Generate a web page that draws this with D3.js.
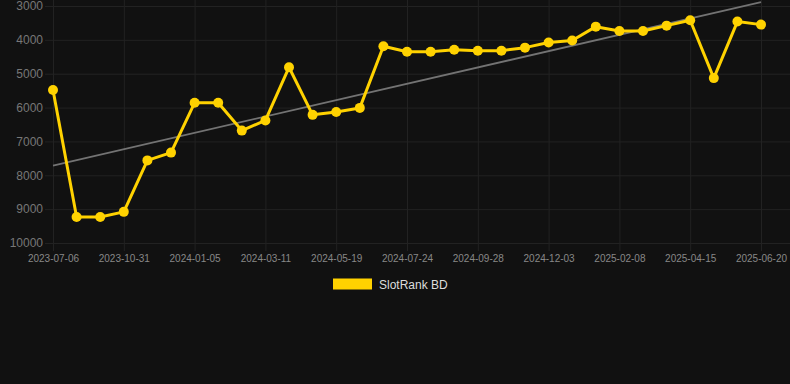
<!DOCTYPE html>
<html>
<head>
<meta charset="utf-8">
<script src="https://cdn.jsdelivr.net/npm/d3@7"></script>
<style>
  html, body { margin: 0; padding: 0; background: #111111; }
  svg { display: block; font-family: "Liberation Sans", Arial, sans-serif; }
</style>
</head>
<body>
<svg id="chart" width="790" height="384"></svg>
<script>
const dates = [
  "2023-07-06","2023-08-14","2023-09-22","2023-10-31","2023-11-22","2023-12-14",
  "2024-01-05","2024-01-27","2024-02-18","2024-03-11","2024-04-03","2024-04-26",
  "2024-05-19","2024-06-10","2024-07-02","2024-07-24","2024-08-15","2024-09-06",
  "2024-09-28","2024-10-20","2024-11-11","2024-12-03","2024-12-25","2025-01-17",
  "2025-02-08","2025-03-02","2025-03-24","2025-04-15","2025-05-07","2025-05-29",
  "2025-06-20"
];
const ranks = [
  5480, 9230, 9230, 9080, 7560, 7330,
  5860, 5860, 6680, 6380, 4810, 6215,
  6130, 6010, 4190, 4350, 4350, 4290,
  4320, 4320, 4230, 4080, 4020, 3610,
  3740, 3740, 3580, 3420, 5130, 3460,
  3550
];
const yTicks = [3000, 4000, 5000, 6000, 7000, 8000, 9000, 10000];
const xTickLabels = dates.filter((d, i) => i % 3 === 0);
const seriesName = "SlotRank BD";

const svg = d3.select("#chart");
const plotLeft = 53, plotRight = 761, plotTop = 6, plotBottom = 243;

const x = d3.scalePoint().domain(dates).range([plotLeft, plotRight]);
const y = d3.scaleLinear().domain([3000, 10000]).range([plotTop, plotBottom]);

// horizontal grid + y labels
const yAxis = d3.axisLeft(y).tickValues(yTicks).tickSize(-(790 - 53)).tickPadding(2).tickFormat(d3.format("d"));
const gy = svg.append("g").attr("transform", `translate(53,0)`).call(yAxis);
gy.select(".domain").remove();
gy.selectAll(".tick line").attr("stroke", "#222222").attr("stroke-width", 1).attr("x1", -8);
gy.selectAll(".tick text").attr("fill", "#777").attr("font-size", 12).attr("x", -10)
  .style("font-family", "Liberation Sans, Arial, sans-serif");

// vertical grid + x labels
const xAxis = d3.axisBottom(x).tickValues(xTickLabels).tickSize(0).tickPadding(0);
const gx = svg.append("g").attr("transform", `translate(0,${plotBottom})`).call(xAxis);
gx.select(".domain").remove();
gx.selectAll(".tick line").attr("stroke", "#222222").attr("y1", 8).attr("y2", -plotBottom);
gx.selectAll(".tick text").attr("fill", "#888").attr("font-size", 10).attr("dy", null).attr("y", 19)
  .style("font-family", "Liberation Sans, Arial, sans-serif");

// trend line (least squares over index)
const n = ranks.length;
const xs = d3.range(n);
const mx = d3.mean(xs), my = d3.mean(ranks);
const slope = d3.sum(xs, i => (i - mx) * (ranks[i] - my)) / d3.sum(xs, i => (i - mx) * (i - mx));
const icpt = my - slope * mx;
svg.append("line")
  .attr("x1", x(dates[0])).attr("y1", y(icpt))
  .attr("x2", x(dates[n - 1])).attr("y2", y(icpt + slope * (n - 1)))
  .attr("stroke", "#737373").attr("stroke-width", 1.8);

// main line
const line = d3.line().x((d, i) => x(dates[i])).y(d => y(d));
svg.append("path").datum(ranks).attr("d", line)
  .attr("fill", "none").attr("stroke", "#FFD200").attr("stroke-width", 3).attr("stroke-linejoin", "round");

svg.append("g").selectAll("circle").data(ranks).join("circle")
  .attr("cx", (d, i) => x(dates[i])).attr("cy", d => y(d)).attr("r", 5)
  .attr("fill", "#FFD200");

// legend
const lg = svg.append("g");
lg.append("rect").attr("x", 333).attr("y", 278.5).attr("width", 39).attr("height", 11).attr("fill", "#FFD200");
lg.append("text").attr("x", 379).attr("y", 288.5).attr("fill", "#dddddd").attr("font-size", 12)
  .text(seriesName);
</script>
</body>
</html>
